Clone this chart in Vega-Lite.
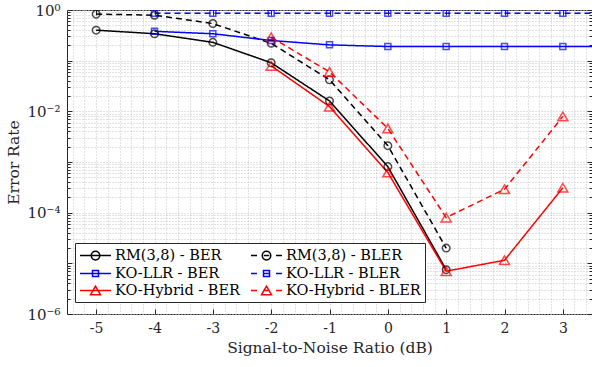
{
  "$schema": "https://vega.github.io/schema/vega-lite/v6.json",
  "width": 525,
  "height": 304,
  "autosize": {"type": "none"},
  "padding": {"left": 67, "top": 10, "right": 0, "bottom": 53},
  "background": "white",
  "config": {
    "view": {"stroke": "#262626", "strokeWidth": 1},
    "font": "DejaVu Serif",
    "axis": {"labelFont": "DejaVu Serif", "titleFont": "DejaVu Serif", "titleFontWeight": "normal", "labelColor": "#262626", "titleColor": "#262626", "tickColor": "#262626", "domain": false}
  },
  "data": {
    "values": [
      {"x": -5, "y": 0.40, "code": "RM", "metric": "BER", "series": "RM(3,8) - BER"},
      {"x": -4, "y": 0.34, "code": "RM", "metric": "BER", "series": "RM(3,8) - BER"},
      {"x": -3, "y": 0.23, "code": "RM", "metric": "BER", "series": "RM(3,8) - BER"},
      {"x": -2, "y": 0.091, "code": "RM", "metric": "BER", "series": "RM(3,8) - BER"},
      {"x": -1, "y": 0.016, "code": "RM", "metric": "BER", "series": "RM(3,8) - BER"},
      {"x": 0, "y": 0.00081, "code": "RM", "metric": "BER", "series": "RM(3,8) - BER"},
      {"x": 1, "y": 0.0000075, "code": "RM", "metric": "BER", "series": "RM(3,8) - BER"},
      {"x": -5, "y": 0.83, "code": "RM", "metric": "BLER", "series": "RM(3,8) - BLER"},
      {"x": -4, "y": 0.79, "code": "RM", "metric": "BLER", "series": "RM(3,8) - BLER"},
      {"x": -3, "y": 0.54, "code": "RM", "metric": "BLER", "series": "RM(3,8) - BLER"},
      {"x": -2, "y": 0.22, "code": "RM", "metric": "BLER", "series": "RM(3,8) - BLER"},
      {"x": -1, "y": 0.042, "code": "RM", "metric": "BLER", "series": "RM(3,8) - BLER"},
      {"x": 0, "y": 0.0021, "code": "RM", "metric": "BLER", "series": "RM(3,8) - BLER"},
      {"x": 1, "y": 0.00002, "code": "RM", "metric": "BLER", "series": "RM(3,8) - BLER"},
      {"x": -4, "y": 0.38, "code": "KO-LLR", "metric": "BER", "series": "KO-LLR - BER"},
      {"x": -3, "y": 0.34, "code": "KO-LLR", "metric": "BER", "series": "KO-LLR - BER"},
      {"x": -2, "y": 0.25, "code": "KO-LLR", "metric": "BER", "series": "KO-LLR - BER"},
      {"x": -1, "y": 0.205, "code": "KO-LLR", "metric": "BER", "series": "KO-LLR - BER"},
      {"x": 0, "y": 0.19, "code": "KO-LLR", "metric": "BER", "series": "KO-LLR - BER"},
      {"x": 1, "y": 0.19, "code": "KO-LLR", "metric": "BER", "series": "KO-LLR - BER"},
      {"x": 2, "y": 0.19, "code": "KO-LLR", "metric": "BER", "series": "KO-LLR - BER"},
      {"x": 3, "y": 0.19, "code": "KO-LLR", "metric": "BER", "series": "KO-LLR - BER"},
      {"x": 4, "y": 0.19, "code": "KO-LLR", "metric": "BER", "series": "KO-LLR - BER"},
      {"x": -4, "y": 0.86, "code": "KO-LLR", "metric": "BLER", "series": "KO-LLR - BLER"},
      {"x": -3, "y": 0.86, "code": "KO-LLR", "metric": "BLER", "series": "KO-LLR - BLER"},
      {"x": -2, "y": 0.86, "code": "KO-LLR", "metric": "BLER", "series": "KO-LLR - BLER"},
      {"x": -1, "y": 0.86, "code": "KO-LLR", "metric": "BLER", "series": "KO-LLR - BLER"},
      {"x": 0, "y": 0.86, "code": "KO-LLR", "metric": "BLER", "series": "KO-LLR - BLER"},
      {"x": 1, "y": 0.86, "code": "KO-LLR", "metric": "BLER", "series": "KO-LLR - BLER"},
      {"x": 2, "y": 0.86, "code": "KO-LLR", "metric": "BLER", "series": "KO-LLR - BLER"},
      {"x": 3, "y": 0.86, "code": "KO-LLR", "metric": "BLER", "series": "KO-LLR - BLER"},
      {"x": 4, "y": 0.86, "code": "KO-LLR", "metric": "BLER", "series": "KO-LLR - BLER"},
      {"x": -2, "y": 0.079, "code": "KO-Hybrid", "metric": "BER", "series": "KO-Hybrid - BER"},
      {"x": -1, "y": 0.0124, "code": "KO-Hybrid", "metric": "BER", "series": "KO-Hybrid - BER"},
      {"x": 0, "y": 0.00062, "code": "KO-Hybrid", "metric": "BER", "series": "KO-Hybrid - BER"},
      {"x": 1, "y": 0.000007, "code": "KO-Hybrid", "metric": "BER", "series": "KO-Hybrid - BER"},
      {"x": 2, "y": 0.0000115, "code": "KO-Hybrid", "metric": "BER", "series": "KO-Hybrid - BER"},
      {"x": 3, "y": 0.00031, "code": "KO-Hybrid", "metric": "BER", "series": "KO-Hybrid - BER"},
      {"x": -2, "y": 0.29, "code": "KO-Hybrid", "metric": "BLER", "series": "KO-Hybrid - BLER"},
      {"x": -1, "y": 0.06, "code": "KO-Hybrid", "metric": "BLER", "series": "KO-Hybrid - BLER"},
      {"x": 0, "y": 0.0046, "code": "KO-Hybrid", "metric": "BLER", "series": "KO-Hybrid - BLER"},
      {"x": 1, "y": 0.00008, "code": "KO-Hybrid", "metric": "BLER", "series": "KO-Hybrid - BLER"},
      {"x": 2, "y": 0.00029, "code": "KO-Hybrid", "metric": "BLER", "series": "KO-Hybrid - BLER"},
      {"x": 3, "y": 0.0079, "code": "KO-Hybrid", "metric": "BLER", "series": "KO-Hybrid - BLER"}
    ]
  },
  "resolve": {"axis": {"x": "independent", "y": "independent"}},
  "layer": [
    {
      "mark": {"type": "line", "strokeWidth": 1.5, "clip": true},
      "encoding": {
        "x": {"field": "x", "type": "quantitative", "scale": {"domain": [-5.5, 3.5], "nice": false, "zero": false},
          "axis": {"orient": "bottom", "values": [-5, -4, -3, -2, -1, 0, 1, 2, 3], "grid": true, "gridColor": "#c4c4c4", "gridDash": [1, 2], "tickSize": -5, "labelExpr": "toString(datum.value)", "labelFontSize": 14, "labelPadding": 12, "title": "Signal-to-Noise Ratio (dB)", "titleFontSize": 15.5, "titlePadding": 5}},
        "y": {"field": "y", "type": "quantitative", "scale": {"type": "log", "domain": [0.000001, 1], "nice": false},
          "axis": {"orient": "left", "values": [0.000001, 0.00001, 0.0001, 0.001, 0.01, 0.1, 1], "grid": true, "gridColor": "#c4c4c4", "gridDash": [1, 2], "tickSize": -5, "labelExpr": "round(log(datum.value)/LN10) == 0 ? '10⁰' : round(log(datum.value)/LN10) == -2 ? '10⁻²' : round(log(datum.value)/LN10) == -4 ? '10⁻⁴' : round(log(datum.value)/LN10) == -6 ? '10⁻⁶' : ''", "labelFontSize": 15, "labelPadding": 12, "labelFlush": false, "title": "Error Rate", "titleFontSize": 15.5, "titlePadding": 5}},
        "color": {"field": "series", "type": "nominal",
          "scale": {"domain": ["RM(3,8) - BER", "KO-LLR - BER", "KO-Hybrid - BER", "RM(3,8) - BLER", "KO-LLR - BLER", "KO-Hybrid - BLER"], "range": ["#000000", "#0000ff", "#ff0000", "#000000", "#0000ff", "#ff0000"]},
          "legend": {"title": null, "orient": "none", "legendX": 8, "legendY": 233, "columns": 2, "columnPadding": 7, "rowPadding": 2, "padding": 4,
            "strokeColor": "#262626", "fillColor": "white", "labelFont": "DejaVu Serif", "labelFontSize": 14.5, "labelColor": "#000000", "labelOffset": 19, "symbolSize": 225, "symbolStrokeWidth": 1.5,
            "encode": {"symbols": {"update": {
              "fill": {"value": "transparent"},
              "strokeDash": {"value": []},
              "strokeWidth": {"value": 1.5},
              "shape": {"signal": "datum.value == 'RM(3,8) - BER' ? 'M-1,0L3.13,0M1.634,0A0.567,0.567,0,1,1,0.5,0A0.567,0.567,0,1,1,1.634,0Z' : datum.value == 'RM(3,8) - BLER' ? 'M-1,0L-0.2,0M0.7,0L1.43,0M2.33,0L3.13,0M1.634,0A0.567,0.567,0,1,1,0.5,0A0.567,0.567,0,1,1,1.634,0Z' : datum.value == 'KO-LLR - BER' ? 'M-1,0L3.13,0M0.667,-0.4L1.467,-0.4L1.467,0.4L0.667,0.4Z' : datum.value == 'KO-LLR - BLER' ? 'M-1,0L-0.2,0M0.7,0L1.43,0M2.33,0L3.13,0M0.667,-0.4L1.467,-0.4L1.467,0.4L0.667,0.4Z' : datum.value == 'KO-Hybrid - BER' ? 'M-1,0L3.13,0M1.067,-0.577L0.4,0.577L1.733,0.577Z' : 'M-1,0L-0.2,0M0.7,0L1.43,0M2.33,0L3.13,0M1.067,-0.577L0.4,0.577L1.733,0.577Z'"}
            }}}}},
        "strokeDash": {"field": "metric", "type": "nominal", "scale": {"domain": ["BER", "BLER"], "range": [[1, 0], [6, 4]]}, "legend": null}
      }
    },
    {
      "transform": [{"filter": "datum.code == 'RM'"}],
      "mark": {"type": "point", "shape": "circle", "filled": false, "size": 57, "strokeWidth": 1.5, "clip": true},
      "encoding": {
        "x": {"field": "x", "type": "quantitative",
          "axis": {"orient": "bottom", "values": [-5.4, -5.2, -4.8, -4.6, -4.4, -4.2, -3.8, -3.6, -3.4, -3.2, -2.8, -2.6, -2.4, -2.2, -1.8, -1.6, -1.4, -1.2, -0.8, -0.6, -0.4, -0.2, 0.2, 0.4, 0.6, 0.8, 1.2, 1.4, 1.6, 1.8, 2.2, 2.4, 2.6, 2.8, 3.2, 3.4], "grid": true, "gridColor": "#c4c4c4", "gridDash": [1, 2], "ticks": false, "labels": false, "title": null}},
        "y": {"field": "y", "type": "quantitative",
          "axis": {"orient": "left", "values": [2e-6, 3e-6, 4e-6, 5e-6, 6e-6, 7e-6, 8e-6, 9e-6, 2e-5, 3e-5, 4e-5, 5e-5, 6e-5, 7e-5, 8e-5, 9e-5, 0.0002, 0.0003, 0.0004, 0.0005, 0.0006, 0.0007, 0.0008, 0.0009, 0.002, 0.003, 0.004, 0.005, 0.006, 0.007, 0.008, 0.009, 0.02, 0.03, 0.04, 0.05, 0.06, 0.07, 0.08, 0.09, 0.2, 0.3, 0.4, 0.5, 0.6, 0.7, 0.8, 0.9], "grid": true, "gridColor": "#c4c4c4", "gridDash": [1, 2], "tickSize": -3, "labels": false, "title": null}},
        "color": {"field": "series", "type": "nominal"}
      }
    },
    {
      "transform": [{"filter": "datum.code == 'KO-LLR'"}],
      "mark": {"type": "point", "shape": "square", "filled": false, "size": 36, "strokeWidth": 1.5, "clip": true},
      "encoding": {
        "x": {"field": "x", "type": "quantitative",
          "axis": {"orient": "top", "values": [-5, -4, -3, -2, -1, 0, 1, 2, 3], "grid": false, "tickSize": -5, "labels": false, "title": null}},
        "y": {"field": "y", "type": "quantitative",
          "axis": {"orient": "right", "values": [0.000001, 0.00001, 0.0001, 0.001, 0.01, 0.1, 1], "grid": false, "tickSize": -5, "labels": false, "title": null}},
        "color": {"field": "series", "type": "nominal"}
      }
    },
    {
      "transform": [{"filter": "datum.code == 'KO-Hybrid'"}],
      "mark": {"type": "point", "shape": "triangle-up", "filled": false, "size": 100, "strokeWidth": 1.5, "clip": true},
      "encoding": {
        "x": {"field": "x", "type": "quantitative", "axis": null},
        "y": {"field": "y", "type": "quantitative",
          "axis": {"orient": "right", "values": [2e-6, 3e-6, 4e-6, 5e-6, 6e-6, 7e-6, 8e-6, 9e-6, 2e-5, 3e-5, 4e-5, 5e-5, 6e-5, 7e-5, 8e-5, 9e-5, 0.0002, 0.0003, 0.0004, 0.0005, 0.0006, 0.0007, 0.0008, 0.0009, 0.002, 0.003, 0.004, 0.005, 0.006, 0.007, 0.008, 0.009, 0.02, 0.03, 0.04, 0.05, 0.06, 0.07, 0.08, 0.09, 0.2, 0.3, 0.4, 0.5, 0.6, 0.7, 0.8, 0.9], "grid": false, "tickSize": -3, "labels": false, "title": null}},
        "color": {"field": "series", "type": "nominal"}
      }
    }
  ]
}
